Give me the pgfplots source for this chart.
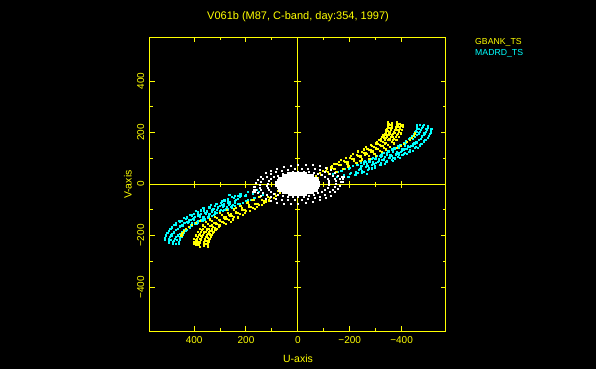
\documentclass[border=0pt]{standalone}
\usepackage{fontspec}
\setmainfont{Liberation Sans}
\usepackage{pgfplots}
\usepackage{pgfplotstable}
\pgfplotsset{compat=1.18}
\definecolor{pgyellow}{RGB}{255,255,0}
\definecolor{pgcyan}{RGB}{0,255,255}
\definecolor{pgwhite}{RGB}{255,255,255}
\begin{document}
% GBANK_TS baselines (one half of the uv plane; the conjugate half is -u,-v)
\pgfplotstableread{
u v
-125 66
-150 79
-175 91
-200 103
-225 115
-247 126
-267 137
-285 148
-300 159
-313 171
-324 184
-333 197
-340 210
-345 223
-348 234
-347 242
-319 177
-329 190
-337 203
-343 216
-347 228
-90 37
-115 49
-140 61
-165 74
-190 86
-215 98
-240 110
-262 121
-282 132
-300 143
-315 154
-328 166
-339 179
-348 192
-355 205
-360 218
-363 229
-362 237
-334 172
-344 185
-352 198
-358 211
-362 223
-258 115
-280 126
-300 137
-318 148
-333 159
-346 171
-357 184
-366 197
-373 210
-378 223
-381 234
-380 242
-352 177
-362 190
-370 203
-376 216
-380 228
-147 48
-172 60
-197 73
-222 85
-247 97
-272 109
-294 120
-314 131
-332 142
-347 153
-360 165
-371 178
-380 191
-387 204
-392 217
-395 228
-394 236
-366 171
-376 184
-384 197
-390 210
-394 222
-322 125
-340 136
-355 147
-368 159
-379 172
-388 185
-395 198
-400 211
-403 222
-402 230
-107 51
-132 63
-157 76
-182 88
-207 100
-232 112
-254 123
-274 134
-292 145
-307 156
-320 168
-331 181
-340 194
-347 207
-352 220
-355 231
-190 81
-215 93
-240 105
-265 117
-287 128
-307 139
-325 150
-340 161
-353 173
-364 186
-373 199
-380 212
-385 225
-386 236
-380 140
-395 148
-408 156
-420 164
-431 172
-440 180
-446 189
-450 198
-45 18
-55 28
-62 20
-70 34
-78 26
-85 45
-95 52
-105 30
-112 62
-120 40
-132 72
-140 80
-150 50
-158 88
-165 95
-178 60
-185 104
-192 70
-205 112
-212 120
-225 84
-232 128
-240 92
-252 136
-260 145
-275 100
-280 155
-300 112
-305 165
}\gbank
% MADRD_TS baselines
\pgfplotstableread{
u v
-170 52
-200 64
-230 76
-260 89
-290 102
-320 115
-348 128
-373 141
-396 154
-416 167
-432 181
-445 195
-454 209
-459 222
-459 232
-439 188
-450 202
-457 215
-135 42
-165 52
-195 62
-225 74
-255 86
-285 99
-315 112
-345 125
-373 138
-398 151
-421 164
-441 177
-457 191
-470 205
-479 219
-484 232
-449 184
-464 198
-475 212
-482 225
-270 72
-300 85
-330 98
-360 111
-388 124
-413 137
-436 150
-456 163
-472 177
-485 191
-494 205
-499 218
-499 228
-479 184
-490 198
-497 211
-194 28
-224 38
-254 50
-284 62
-314 75
-344 88
-374 101
-402 114
-427 127
-450 140
-470 153
-486 167
-499 181
-508 195
-513 208
-514 217
-493 174
-504 188
-511 201
-335 78
-365 91
-393 104
-418 117
-441 130
-461 143
-477 157
-490 171
-152 50
-182 60
-212 72
-242 84
-272 97
-302 110
-332 123
-360 136
-385 149
-408 162
-428 175
-444 189
-457 203
-466 217
-471 230
-203 44
-233 56
-263 68
-293 81
-323 94
-353 107
-381 120
-406 133
-429 146
-449 159
-465 173
-478 187
-487 201
-492 214
-240 60
-242 66
-244 72
-262 68
-264 74
-266 80
-285 76
-287 82
-289 88
-308 86
-310 92
-312 98
-330 94
-332 100
-334 106
-352 104
-354 110
-356 116
-376 114
-378 120
-380 126
-398 126
-400 132
-402 138
-420 138
-422 144
-424 150
-442 150
-444 156
-446 162
-252 78
-254 84
-256 90
-275 88
-277 94
-279 100
-298 98
-300 104
-302 110
-320 106
-322 112
-324 118
-342 116
-344 122
-346 128
-365 128
-367 134
-369 140
-388 140
-390 146
-392 152
-410 150
-412 156
-414 162
-220 38
-222 44
-224 50
-245 46
-247 52
-270 56
-272 62
-295 66
-297 72
-318 76
-320 82
-340 86
-342 92
-362 96
-364 102
-386 108
-388 114
-408 118
-410 124
-430 128
-432 134
-452 140
-454 146
-470 150
-472 156
-175 38
-200 40
-230 45
-265 42
-150 30
-160 22
}\madrd
% short baselines: rings
\pgfplotstableread{
u v
165 -8
163 5
155 18
143 31
126 43
106 53
83 62
56 69
29 73
0 76
-29 76
-56 74
-83 70
-106 63
-126 55
-143 45
-155 34
-163 21
147 -2
143 9
134 20
121 30
105 39
85 47
63 53
38 58
13 61
-13 62
-38 62
-63 59
-85 55
-105 49
-121 42
-134 33
-143 23
-147 13
120 -6
118 3
113 12
104 20
92 28
77 34
60 40
41 45
21 48
0 50
-21 50
-41 49
-60 46
-77 42
-92 37
-104 30
-113 23
-118 15
-172 10
-172 20
-176 28
-168 30
}\rings
% short baselines: dense core
\pgfplotstableread{
u v
-80 4
-70 4
-60 4
-50 4
-40 4
-30 4
-20 4
-10 4
0 4
10 4
20 4
30 4
40 4
50 4
60 4
70 4
80 4
-75 13
-65 13
-55 13
-45 13
-35 13
-25 13
-15 13
-5 13
5 13
15 13
25 13
35 13
45 13
55 13
65 13
75 13
-70 22
-60 22
-50 22
-40 22
-30 22
-20 22
-10 22
0 22
10 22
20 22
30 22
40 22
50 22
60 22
70 22
-55 31
-45 31
-35 31
-25 31
-15 31
-5 31
5 31
15 31
25 31
35 31
45 31
55 31
-30 39
-20 39
-10 39
0 39
10 39
20 39
30 39
}\core
\begin{tikzpicture}
\fill[black] (0pt,0pt) rectangle (596pt,369pt);
% centre lines through the origin
\begin{axis}[
  at={(150pt,38pt)}, anchor=south west, scale only axis,
  width=295.7pt, height=293.7pt,
  xmin=-570, xmax=570, ymin=-570, ymax=570, x dir=reverse,
  axis lines=middle, axis line style={pgyellow, line width=1pt, -},
  xtick={-400,-200,0,200,400}, ytick={-400,-200,0,200,400},
  minor tick num=1, tick align=center,
  major tick length=7pt, minor tick length=5pt,
  every tick/.style={pgyellow, line width=1pt},
  xticklabels={}, yticklabels={},
]
\end{axis}
\begin{axis}[
  at={(150pt,38pt)}, anchor=south west, scale only axis,
  width=295.7pt, height=293.7pt,
  xmin=-570, xmax=570, ymin=-570, ymax=570, x dir=reverse,
  axis line style={pgyellow, line width=1pt},
  xtick={-400,-200,0,200,400}, ytick={-400,-200,0,200,400},
  xticklabels={−400,−200,0,200,400}, yticklabels={−400,−200,0,200,400},
  minor tick num=1, tick align=inside,
  major tick length=5pt, minor tick length=3pt,
  every tick/.style={pgyellow, line width=1pt},
  ticklabel style={pgyellow, font=\fontsize{10}{12}\selectfont},
  xticklabel style={anchor=north, inner sep=5pt},
  yticklabel style={rotate=90, anchor=south, inner sep=5.5pt},
  clip=false,
]
\addplot[only marks, mark=square*, mark size=0.55pt, mark options={draw=pgcyan, fill=pgcyan, line width=0.3pt}] table[x=u, y=v]{\madrd};
\addplot[only marks, mark=square*, mark size=0.55pt, mark options={draw=pgcyan, fill=pgcyan, line width=0.3pt}] table[x expr=-\thisrow{u}, y expr=-\thisrow{v}]{\madrd};
\addplot[only marks, mark=square*, mark size=0.55pt, mark options={draw=pgyellow, fill=pgyellow, line width=0.3pt}] table[x=u, y=v]{\gbank};
\addplot[only marks, mark=square*, mark size=0.55pt, mark options={draw=pgyellow, fill=pgyellow, line width=0.3pt}] table[x expr=-\thisrow{u}, y expr=-\thisrow{v}]{\gbank};
\addplot[only marks, mark=square*, mark size=1.3pt, mark options={draw=pgwhite, fill=pgwhite, line width=1pt}] table[x=u, y=v]{\core};
\addplot[only marks, mark=square*, mark size=1.3pt, mark options={draw=pgwhite, fill=pgwhite, line width=1pt}] table[x expr=-\thisrow{u}, y expr=-\thisrow{v}]{\core};
\addplot[only marks, mark=square*, mark size=0.5pt, mark options={draw=pgwhite, fill=pgwhite, line width=0.3pt}] table[x=u, y=v]{\rings};
\addplot[only marks, mark=square*, mark size=0.5pt, mark options={draw=pgwhite, fill=pgwhite, line width=0.3pt}] table[x expr=-\thisrow{u}, y expr=-\thisrow{v}]{\rings};
\end{axis}
\node[anchor=base, text=pgyellow, font=\fontsize{11}{13}\selectfont, inner sep=0pt] at (298pt,349pt) {V061b (M87, C-band, day:354, 1997)};
\node[anchor=base, text=pgyellow, font=\fontsize{10.5}{12}\selectfont, inner sep=0pt] at (298pt,6.5pt) {U-axis};
\node[anchor=base, rotate=90, text=pgyellow, font=\fontsize{10.5}{12}\selectfont, inner sep=0pt] at (131.5pt,184.3pt) {V-axis};
\node[anchor=base west, text=pgyellow, font=\fontsize{8.7}{10}\selectfont, inner sep=0pt] at (475pt,324pt) {GBANK\_TS};
\node[anchor=base west, text=pgcyan, font=\fontsize{8.7}{10}\selectfont, inner sep=0pt] at (475pt,313.7pt) {MADRD\_TS};
\end{tikzpicture}
\end{document}
